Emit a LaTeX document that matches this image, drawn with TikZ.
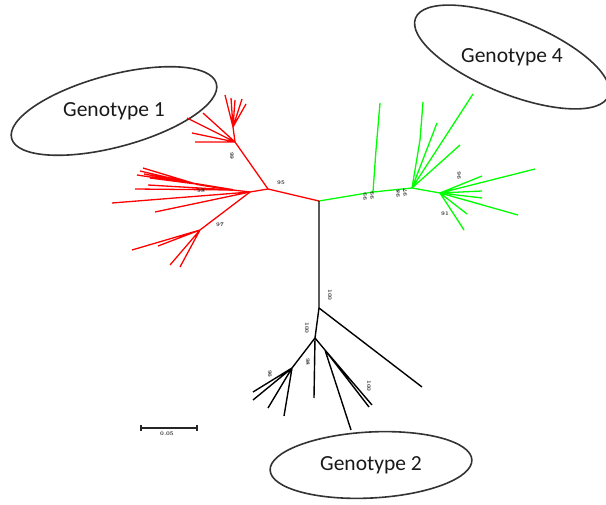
\documentclass[tikz,border=0pt]{standalone}
\usepackage{fontspec}
\newfontfamily\gfont{Carlito}
\tikzset{
  redb/.style={draw=red, line width=1.3pt},
  greenb/.style={draw=green, line width=1.3pt},
  blackb/.style={draw=black, line width=1.4pt},
  ellb/.style={draw=black!80, line width=1.6pt},
  gtext/.style={font=\gfont\fontsize{21.5}{24}\selectfont, inner sep=0pt, text=black!90},
  boot/.style={font=\fontsize{5.5}{6}\selectfont\bfseries, inner sep=0pt, text=black!85}
}
\begin{document}
\begin{tikzpicture}[x=1pt,y=-1pt]
\useasboundingbox (0,0) rectangle (606,505);
% ---------- genotype labels and ellipses
\node[gtext] (ta) at (114,111) {Genotype 1};
\node[gtext] (tb) at (512,57) {Genotype 4};
\node[gtext] (tc) at (371,465) {Genotype 2};
\draw[ellb, rotate around={15:(ta)}] (ta) ellipse [x radius=106, y radius=36];
\draw[ellb, rotate around={-22:(tb)}] (tb) ellipse [x radius=104, y radius=37];
\draw[ellb, rotate around={3:(tc)}] (tc) ellipse [x radius=101, y radius=33];
% ---------- tree nodes
\coordinate (root) at (319,201);
% red
\coordinate (rA) at (268,189);
\coordinate (rB) at (235,142);
\coordinate (rBt) at (233,127);
\coordinate (rD) at (250,192);
\coordinate (rF) at (233,190);
\coordinate (rG) at (196,184);
\coordinate (rE) at (200,230);
\coordinate (rta) at (225,95);
\coordinate (rtb) at (231,98);
\coordinate (rtc) at (235,100);
\coordinate (rtd) at (242,99);
\coordinate (rte) at (246,104);
\coordinate (rsa) at (187,118);
\coordinate (rsb) at (203,113);
\coordinate (rsc) at (192,133);
\coordinate (rsd) at (195,142);
\coordinate (rla) at (112,203);
\coordinate (rlb) at (155,212);
\coordinate (rma) at (135,189);
\coordinate (rmb) at (148,185);
\coordinate (rfa) at (137,175);
\coordinate (rfb) at (140,171);
\coordinate (rfc) at (143,168);
\coordinate (rfd) at (144,174);
\coordinate (rfe) at (150,178);
\coordinate (rda) at (132,250);
\coordinate (rdb) at (158,246);
\coordinate (rdc) at (170,265);
\coordinate (rdd) at (180,267);
% green
\coordinate (gA) at (373,192);
\coordinate (gAm) at (376,150);
\coordinate (gAl) at (380,103);
\coordinate (gB) at (412,188);
\coordinate (gBm) at (420,140);
\coordinate (gC) at (440,193);
\coordinate (gua) at (423,102);
\coordinate (gub) at (437,123);
\coordinate (guc) at (473,94);
\coordinate (gud) at (460,145);
\coordinate (gra) at (482,176);
\coordinate (grb) at (535,169);
\coordinate (grc) at (482,191);
\coordinate (grd) at (482,198);
\coordinate (gre) at (483,205);
\coordinate (grf) at (518,215);
\coordinate (grg) at (467,214);
\coordinate (grh) at (464,230);
% black
\coordinate (bA) at (319,308);
\coordinate (bAl) at (422,387);
\coordinate (bB) at (315,338);
\coordinate (bC) at (292,368);
\coordinate (bD) at (325,350);
\coordinate (bBl) at (314,398);
\coordinate (bla) at (253,392);
\coordinate (blb) at (253,400);
\coordinate (blc) at (268,408);
\coordinate (bld) at (284,416);
\coordinate (bma) at (351,430);
\coordinate (bmb) at (372,405);
\coordinate (bmc) at (369,407);
% ---------- red branches
\draw[redb] (root) -- (rA) -- (rB) -- (rBt);
\draw[redb] (rBt) -- (rta) (rBt) -- (rtb) (rBt) -- (rtc) (rBt) -- (rtd) (rBt) -- (rte);
\draw[redb] (rB) -- (rsa) (rB) -- (rsb) (rB) -- (rsc) (rB) -- (rsd);
\draw[redb] (rA) -- (rD);
\draw[redb] (rD) -- (rla) (rD) -- (rlb);
\draw[redb] (rD) -- (rF);
\draw[redb] (rF) -- (rma) (rF) -- (rmb);
\draw[redb, line width=2pt] (rF) -- (rG);
\draw[redb] (rG) -- (rfa) (rG) -- (rfb) (rG) -- (rfc) (rG) -- (rfd) (rG) -- (rfe);
\draw[redb] (rD) -- (rE);
\draw[redb] (rE) -- (rda) (rE) -- (rdb) (rE) -- (rdc) (rE) -- (rdd);
% ---------- green branches
\draw[greenb] (root) -- (gA) -- (gB) -- (gC);
\draw[greenb] (gA) -- (gAm) -- (gAl);
\draw[greenb] (gB) -- (gBm) -- (gua);
\draw[greenb] (gB) -- (gub) (gB) -- (guc) (gB) -- (gud);
\draw[greenb] (gC) -- (gra) (gC) -- (grb) (gC) -- (grc) (gC) -- (grd);
\draw[greenb] (gC) -- (gre) (gC) -- (grf) (gC) -- (grg) (gC) -- (grh);
% ---------- black branches
\draw[blackb] (root) -- (bA) -- (bAl);
\draw[blackb] (bA) -- (bB) -- (bC);
\draw[blackb] (bC) -- (bla) (bC) -- (blb) (bC) -- (blc) (bC) -- (bld);
\draw[blackb] (bB) -- (bBl);
\draw[blackb] (bB) -- (bD);
\draw[blackb] (bD) -- (bma) (bD) -- (bmb) (bD) -- (bmc);
% ---------- scale bar
\coordinate (sbA) at (141,428);
\coordinate (sbB) at (197,428);
\draw[black!85, line width=1.3pt] (sbA) -- (sbB);
\draw[black!85, line width=1.3pt] ([yshift=-3pt]sbA) -- ([yshift=3pt]sbA);
\draw[black!85, line width=1.3pt] ([yshift=-3pt]sbB) -- ([yshift=3pt]sbB);
\node[boot] (sl) at (167,434) {0.05};
% ---------- bootstrap values
\node[boot, rotate=-90] (va) at (232,156) {99};
\node[boot] (vb) at (281,183) {95};
\node[boot] (vc) at (201,191) {98};
\node[boot] (vd) at (220,225) {97};
\node[boot, rotate=90] (ve) at (365,197) {99};
\node[boot, rotate=90] (vf) at (372,196) {99};
\node[boot, rotate=90] (vg) at (398,194) {98};
\node[boot, rotate=90] (vh) at (405,193) {97};
\node[boot, rotate=90] (vi) at (459,176) {96};
\node[boot] (vj) at (445,214) {91};
\node[boot, rotate=-90] (vk) at (330,295) {100};
\node[boot, rotate=-90] (vl) at (307,328) {100};
\node[boot, rotate=-90] (vm) at (308,362) {98};
\node[boot, rotate=-90] (vn) at (270,374) {96};
\node[boot, rotate=-90] (vo) at (369,386) {100};
\end{tikzpicture}
\end{document}
